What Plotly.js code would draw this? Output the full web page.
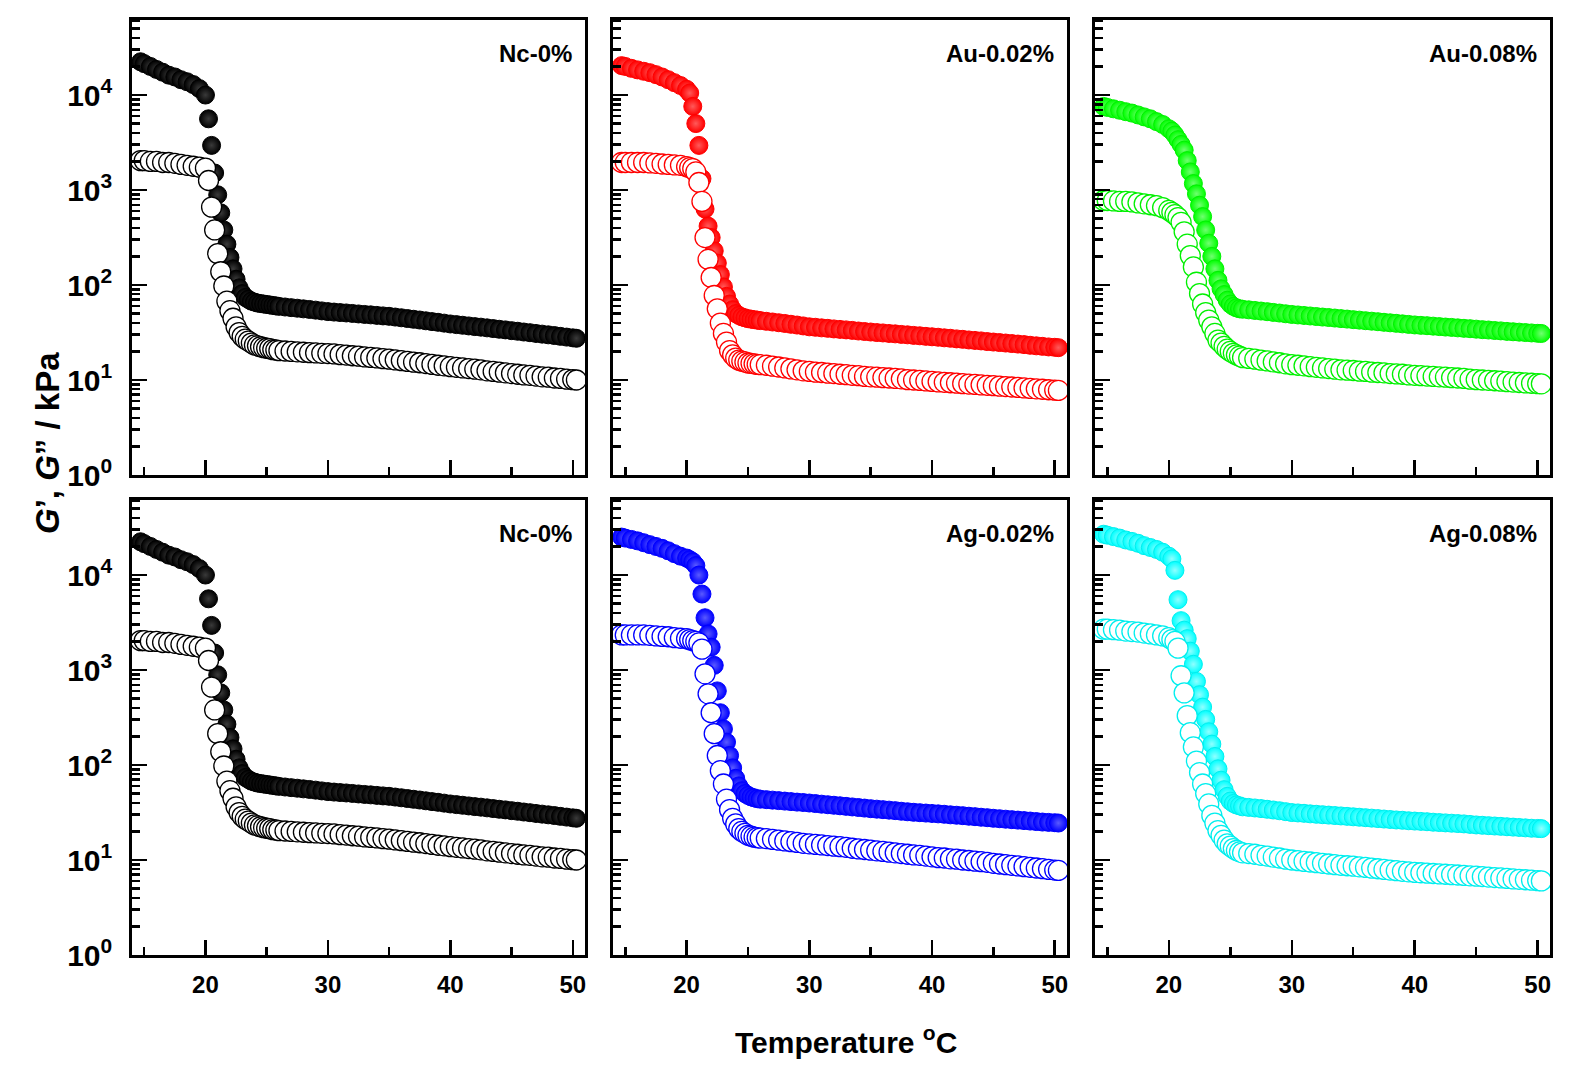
<!DOCTYPE html>
<html>
<head>
<meta charset="utf-8">
<script src="https://cdn.plot.ly/plotly-3.0.1.min.js"></script>
<style>
html, body { margin: 0; padding: 0; background: #ffffff; }
#chart { width: 1574px; height: 1075px; }
</style>
</head>
<body>
<div id="chart"></div>
<script>
// Temperature (°C), shared by all series
const temperature = [14.7, 15, 15.5, 16, 16.5, 17, 17.5, 18, 18.5, 19, 19.5, 20,
  20.25, 20.5, 20.75, 21, 21.25, 21.5, 21.75, 22, 22.25, 22.5, 22.75, 23, 23.25, 23.5, 23.75, 24, 24.25, 24.5, 24.75, 25, 25.25, 25.5, 25.75, 26,
  26.5, 27, 27.5, 28, 28.5, 29, 29.5, 30, 30.5, 31, 31.5, 32, 32.5, 33, 33.5, 34, 34.5, 35, 35.5, 36, 36.5, 37, 37.5, 38, 38.5, 39, 39.5, 40,
  40.5, 41, 41.5, 42, 42.5, 43, 43.5, 44, 44.5, 45, 45.5, 46, 46.5, 47, 47.5, 48, 48.5, 49, 49.5, 50, 50.3];

// Nc-0%  G' and G'' (kPa)
const ncStorage = [22400, 21400, 20000, 18600, 17400, 16200, 15500, 14500, 13800, 12900, 11700, 10000,
  5620, 2950, 1510, 891, 575, 380, 269, 195, 148, 115, 93.3, 81.3, 74.1, 70.8, 67.6, 66.1, 64.6, 63.8, 63.1, 62.4, 61.7, 61.0, 60.3, 59.6,
  58.7, 57.8, 57.0, 56.1, 55.3, 54.4, 53.4, 52.5, 51.9, 51.3, 50.8, 50.2, 49.6, 49.0, 48.5, 47.9, 47.3, 46.8, 46.0, 45.2, 44.4, 43.6, 42.8, 42.0, 41.2, 40.5, 39.7, 38.9,
  38.3, 37.7, 37.1, 36.5, 36.0, 35.4, 34.8, 34.2, 33.7, 33.1, 32.6, 32.0, 31.5, 30.9, 30.4, 29.9, 29.4, 28.8, 28.3, 27.8, 27.5];
const ncLoss = [2040, 2040, 2000, 2000, 1950, 1950, 1910, 1860, 1820, 1780, 1740, 1700,
  1260, 661, 380, 214, 138, 97.7, 67.6, 53.7, 44.7, 36.3, 31.6, 28.8, 26.9, 25.7, 24.5, 23.4, 22.9, 22.4, 21.9, 21.6, 21.4, 20.9, 20.7, 20.4,
  20.2, 20.0, 19.8, 19.6, 19.4, 19.3, 19.1, 19.0, 18.8, 18.5, 18.3, 18.0, 17.8, 17.5, 17.3, 17.1, 16.8, 16.6, 16.3, 16.0, 15.7, 15.4, 15.2, 14.9, 14.6, 14.3, 14.1, 13.8,
  13.6, 13.4, 13.2, 13.0, 12.8, 12.5, 12.3, 12.1, 11.9, 11.7, 11.5, 11.3, 11.2, 11.0, 10.8, 10.7, 10.5, 10.4, 10.2, 10.1, 10.0];

// Au-0.02%
const au02Storage = [20400, 20000, 19100, 18400, 17800, 17200, 16400, 15500, 14500, 13500, 12600, 11500,
  10500, 7590, 5010, 2950, 1320, 631, 417, 316, 229, 170, 129, 95.5, 75.9, 63.1, 55.0, 50.1, 47.9, 46.2, 45.2, 44.2, 43.7, 43.2, 42.7, 42.2,
  41.5, 40.8, 40.1, 39.4, 38.6, 37.9, 37.1, 36.3, 35.9, 35.4, 35.0, 34.5, 34.1, 33.7, 33.3, 32.8, 32.4, 32.0, 31.6, 31.3, 30.9, 30.6, 30.2, 29.9, 29.5, 29.2, 28.8, 28.5,
  28.2, 27.8, 27.5, 27.1, 26.8, 26.4, 26.1, 25.8, 25.4, 25.1, 24.8, 24.5, 24.2, 23.9, 23.6, 23.2, 22.9, 22.6, 22.3, 22.1, 21.9];
const au02Loss = [1950, 1950, 1950, 1950, 1950, 1930, 1910, 1880, 1860, 1840, 1820, 1760,
  1720, 1680, 1550, 1200, 759, 316, 186, 120, 77.6, 56.2, 39.8, 30.9, 25.1, 20.4, 18.4, 17.0, 16.2, 15.8, 15.5, 15.1, 15.0, 14.8, 14.6, 14.5,
  14.3, 14.0, 13.7, 13.4, 13.1, 12.8, 12.5, 12.3, 12.1, 12.0, 11.8, 11.7, 11.5, 11.4, 11.2, 11.1, 10.9, 10.8, 10.7, 10.6, 10.5, 10.4, 10.3, 10.1, 10.0, 9.90, 9.78, 9.66,
  9.56, 9.46, 9.36, 9.26, 9.16, 9.07, 8.98, 8.89, 8.80, 8.71, 8.62, 8.53, 8.44, 8.35, 8.26, 8.17, 8.08, 7.99, 7.90, 7.82, 7.76];

// Au-0.08%
const au08Storage = [7590, 7410, 7160, 6920, 6680, 6460, 6170, 5890, 5620, 5250, 4900, 4420,
  4170, 3800, 3390, 3020, 2630, 2040, 1550, 1170, 912, 692, 525, 380, 275, 200, 148, 112, 91.2, 79.4, 69.2, 63.1, 59.6, 57.5, 56.2, 55.6,
  54.8, 54.0, 53.2, 52.4, 51.5, 50.7, 49.8, 49.0, 48.4, 47.8, 47.2, 46.6, 46.0, 45.5, 44.9, 44.3, 43.8, 43.2, 42.7, 42.1, 41.6, 41.1, 40.5, 40.0, 39.5, 39.0, 38.5, 38.0,
  37.6, 37.3, 36.9, 36.5, 36.1, 35.8, 35.4, 35.0, 34.7, 34.3, 33.9, 33.6, 33.2, 32.9, 32.5, 32.2, 31.9, 31.6, 31.3, 31.0, 30.9];
const au08Loss = [776, 776, 767, 759, 759, 750, 733, 716, 700, 684, 653, 610,
  582, 550, 513, 457, 363, 269, 204, 155, 107, 81.3, 63.1, 51.3, 42.7, 36.3, 30.9, 26.3, 24.5, 22.6, 21.1, 20.0, 19.1, 18.4, 17.8, 17.2,
  16.9, 16.6, 16.2, 15.9, 15.5, 15.2, 14.8, 14.5, 14.3, 14.1, 13.8, 13.6, 13.4, 13.2, 13.0, 12.8, 12.7, 12.6, 12.4, 12.3, 12.1, 12.0, 11.9, 11.7, 11.6, 11.5, 11.3, 11.2,
  11.1, 11.0, 10.9, 10.8, 10.7, 10.6, 10.5, 10.4, 10.2, 10.1, 10.0, 9.92, 9.82, 9.72, 9.62, 9.52, 9.42, 9.33, 9.24, 9.16, 9.12];

// Ag-0.02%
const ag02Storage = [25100, 24500, 23700, 22900, 21900, 20900, 20000, 19100, 18000, 16800, 15800, 15100,
  14500, 13800, 12600, 10000, 6310, 3550, 2400, 1740, 1120, 603, 355, 240, 174, 126, 93.3, 72.4, 60.3, 53.7, 50.1, 47.9, 46.2, 45.2, 44.2, 43.7,
  43.2, 42.7, 42.2, 41.7, 41.2, 40.7, 40.3, 39.8, 39.3, 38.7, 38.2, 37.7, 37.2, 36.7, 36.2, 35.7, 35.2, 34.7, 34.3, 33.9, 33.5, 33.1, 32.6, 32.2, 31.8, 31.5, 31.2, 30.9,
  30.6, 30.3, 29.9, 29.6, 29.3, 28.9, 28.6, 28.2, 27.9, 27.5, 27.2, 26.9, 26.6, 26.3, 26.0, 25.7, 25.4, 25.1, 24.9, 24.7, 24.5];
const ag02Loss = [2340, 2340, 2340, 2340, 2340, 2320, 2290, 2260, 2240, 2190, 2160, 2140,
  2090, 2040, 2000, 1930, 1660, 912, 562, 355, 214, 126, 87.1, 63.1, 43.7, 33.9, 27.5, 24.0, 21.4, 20.0, 19.1, 18.2, 17.8, 17.4, 17.2, 17.0,
  16.8, 16.5, 16.2, 15.9, 15.6, 15.3, 15.0, 14.8, 14.6, 14.4, 14.2, 14.0, 13.8, 13.6, 13.3, 13.1, 12.9, 12.7, 12.5, 12.3, 12.1, 11.9, 11.7, 11.5, 11.3, 11.2, 11.0, 10.8,
  10.6, 10.5, 10.3, 10.2, 10.0, 9.88, 9.74, 9.60, 9.46, 9.23, 9.08, 8.94, 8.80, 8.66, 8.52, 8.38, 8.24, 8.10, 7.97, 7.84, 7.76];

// Ag-0.08%
const ag08Storage = [26900, 26300, 25400, 24500, 23400, 22600, 21600, 20400, 19500, 18600, 17400, 15800,
  14800, 11200, 5500, 3310, 2630, 2140, 1580, 1150, 759, 550, 407, 302, 224, 166, 123, 91.2, 69.2, 55.0, 46.8, 41.7, 39.4, 38.0, 37.2, 36.3,
  35.8, 35.3, 34.8, 34.2, 33.6, 33.0, 32.3, 31.6, 31.3, 31.0, 30.6, 30.3, 30.0, 29.7, 29.4, 29.1, 28.8, 28.5, 28.2, 27.9, 27.6, 27.3, 27.0, 26.7, 26.4, 26.2, 25.9, 25.7,
  25.5, 25.3, 25.0, 24.8, 24.6, 24.4, 24.2, 24.0, 23.7, 23.4, 23.2, 23.0, 22.8, 22.6, 22.4, 22.2, 22.0, 21.8, 21.6, 21.5, 21.4];
const ag08Loss = [2690, 2690, 2660, 2630, 2570, 2540, 2510, 2450, 2400, 2340, 2290, 2190,
  2090, 2000, 1700, 871, 575, 331, 219, 155, 110, 83.2, 63.1, 50.1, 38.9, 29.5, 24.5, 20.4, 18.2, 16.2, 14.8, 14.0, 13.2, 12.6, 12.2, 11.9,
  11.7, 11.5, 11.2, 11.0, 10.7, 10.5, 10.2, 10.0, 9.84, 9.68, 9.53, 9.38, 9.23, 9.08, 8.94, 8.80, 8.70, 8.61, 8.48, 8.35, 8.22, 8.09, 7.96, 7.84, 7.72, 7.61, 7.51, 7.41,
  7.34, 7.28, 7.21, 7.15, 7.08, 7.02, 6.95, 6.89, 6.82, 6.76, 6.69, 6.61, 6.54, 6.47, 6.40, 6.33, 6.26, 6.20, 6.13, 6.07, 6.03];

const panelLabels = ['Nc-0%', 'Au-0.02%', 'Au-0.08%', 'Nc-0%', 'Ag-0.02%', 'Ag-0.08%'];
const xTitle = 'Temperature <sup>o</sup>C';
const yTitle = '<i>G</i>’, <i>G</i>” / kPa';

// ---- styling ----
const panels = [
  { gp: ncStorage,   gpp: ncLoss,   color: '#000000', shine: '#3a3a3a', line: '#000000' },
  { gp: au02Storage, gpp: au02Loss, color: '#ff0000', shine: '#ff5a5a', line: '#ff0000' },
  { gp: au08Storage, gpp: au08Loss, color: '#00ff00', shine: '#70ff70', line: '#00f000' },
  { gp: ncStorage,   gpp: ncLoss,   color: '#000000', shine: '#3a3a3a', line: '#000000' },
  { gp: ag02Storage, gpp: ag02Loss, color: '#0000ff', shine: '#5a5aff', line: '#0000ff' },
  { gp: ag08Storage, gpp: ag08Loss, color: '#00ffff', shine: '#90ffff', line: '#00eeee' }
];

const W = 1574, H = 1075;
const colsPx = [[132, 585], [613, 1067], [1095, 1550]];
const rowsPx = [[20, 475], [500, 955]];
const fontFam = 'Liberation Sans, Arial, Helvetica, sans-serif';

const traces = [];
const layout = {
  width: W, height: H,
  margin: { l: 0, r: 0, t: 0, b: 0 },
  paper_bgcolor: '#ffffff', plot_bgcolor: '#ffffff',
  showlegend: false,
  font: { family: fontFam, color: '#000000' },
  annotations: []
};

panels.forEach((p, i) => {
  const row = Math.floor(i / 3), col = i % 3;
  const sfx = i === 0 ? '' : String(i + 1);
  const xa = 'x' + sfx, ya = 'y' + sfx;

  traces.push({
    type: 'scatter', mode: 'markers', x: temperature, y: p.gp, xaxis: xa, yaxis: ya,
    hoverinfo: 'skip',
    marker: { symbol: 'circle', size: 18, color: p.color,
      gradient: { type: 'radial', color: p.shine },
      line: { color: p.line, width: 1 } }
  });
  traces.push({
    type: 'scatter', mode: 'markers', x: temperature, y: p.gpp, xaxis: xa, yaxis: ya,
    hoverinfo: 'skip',
    marker: { symbol: 'circle', size: 20, color: '#ffffff',
      line: { color: p.line, width: 1.3 } }
  });

  const xd = [colsPx[col][0] / W, colsPx[col][1] / W];
  const yd = [1 - rowsPx[row][1] / H, 1 - rowsPx[row][0] / H];

  layout['xaxis' + sfx] = {
    domain: xd, anchor: ya, range: [14, 51],
    tick0: 20, dtick: 10,
    ticks: 'inside', ticklen: 15, tickwidth: 2.5, tickcolor: '#000',
    minor: { tick0: 15, dtick: 5, ticks: 'inside', ticklen: 8, tickwidth: 2.5, tickcolor: '#000' },
    showline: true, linewidth: 3, linecolor: '#000', mirror: true,
    showgrid: false, zeroline: false,
    showticklabels: row === 1,
    ticklabelstandoff: 6,
    tickfont: { family: fontFam, size: 24, color: '#000', weight: 'bold' }
  };
  layout['yaxis' + sfx] = {
    domain: yd, anchor: xa, type: 'log', range: [0, 4.79],
    tick0: 0, dtick: 1, exponentformat: 'power',
    labelalias: { '1': '10<sup>0</sup>', '10': '10<sup>1</sup>' },
    ticks: 'inside', ticklen: 15, tickwidth: 2.5, tickcolor: '#000',
    minor: { dtick: 'D1', ticks: 'inside', ticklen: 8, tickwidth: 2.5, tickcolor: '#000' },
    showline: true, linewidth: 3, linecolor: '#000', mirror: true,
    showgrid: false, zeroline: false,
    showticklabels: col === 0,
    ticklabelstandoff: 12,
    tickfont: { family: fontFam, size: 24, color: '#000', weight: 'bold' }
  };

  layout.annotations.push({
    xref: xa + ' domain', yref: ya + ' domain', x: 0.975, y: 0.927,
    xanchor: 'right', yanchor: 'middle', showarrow: false,
    text: panelLabels[i],
    font: { family: fontFam, size: 24, color: '#000', weight: 'bold' }
  });
});

layout.annotations.push({
  xref: 'paper', yref: 'paper', x: 846 / W, y: 1 - 1040 / H,
  xanchor: 'center', yanchor: 'middle', showarrow: false,
  text: xTitle,
  font: { family: fontFam, size: 30, color: '#000', weight: 'bold' }
});
layout.annotations.push({
  xref: 'paper', yref: 'paper', x: 47 / W, y: 1 - 443 / H,
  xanchor: 'center', yanchor: 'middle', showarrow: false, textangle: -90,
  text: yTitle,
  font: { family: fontFam, size: 33, color: '#000', weight: 'bold' }
});

Plotly.newPlot('chart', traces, layout, { displayModeBar: false, staticPlot: true });
</script>
</body>
</html>
